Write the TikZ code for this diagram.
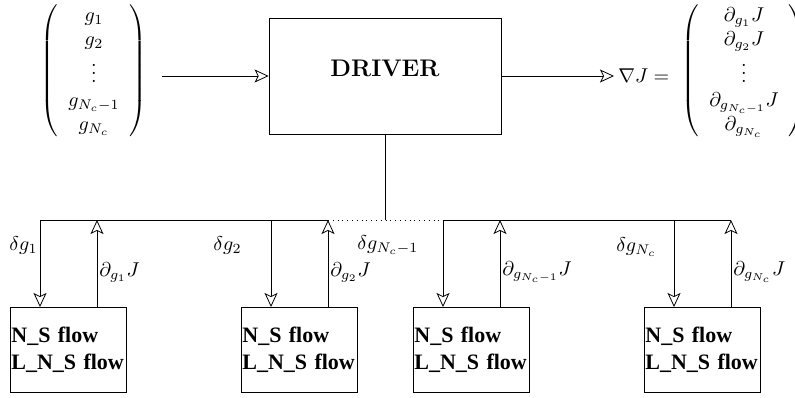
\documentclass[tikz,border=0pt]{standalone}
\usepackage{fontspec}
\usetikzlibrary{arrows.meta}
\newfontfamily\boxfont{Liberation Serif}

\tikzset{
  arr/.style={-{Stealth[open,length=7pt,width=6.5pt,inset=1.6pt]}},
  flowbox/.style={draw, anchor=north west, minimum width=58pt, minimum height=42.5pt,
    text width=57pt, align=left, inner xsep=0.5pt, font=\boxfont\fontsize{11}{13.5}\selectfont\bfseries},
}

\begin{document}
\begin{tikzpicture}[x=0.5pt, y=-0.5pt]
  \useasboundingbox (0,0) rectangle (795,397);
  \def\busY{220}
  % driver and the two vectors
  \node[draw, minimum width=116pt, minimum height=58pt, text depth=8pt,
    font=\large\bfseries] (driver) at (385,76) {DRIVER};
  \node[inner sep=0pt] (gvec) at (94,71)
    {$\left(\begin{array}{c}
      g_1\\ g_2\\ \vdots\\ g_{N_c-1}\\ g_{N_c}\end{array}\right)$};
  \node[anchor=west, inner sep=2pt] (grad) at (614,76) {$\nabla J =$};
  \node[inner sep=0pt] (dvec) at (744,71)
    {$\left(\begin{array}{c}
      \partial_{g_1}J\\ \partial_{g_2}J\\ \vdots\\ \partial_{g_{N_c-1}}J\\ \partial_{g_{N_c}}\end{array}\right)$};
  \draw[arr, shorten <=7.5pt] (gvec.east |- driver.west) -- (driver.west);
  \draw[arr] (driver.east) -- (grad.west);
  % flow boxes with their down/up arrows
  \foreach \i/\x in {1/10, 2/241, 3/413, 4/644} {
    \node[flowbox] (f\i) at (\x,307) {N\_S flow\\ L\_N\_S flow};
    \coordinate (t\i) at (\x+30,\busY);
    \coordinate (u\i) at (\x+87,\busY);
    \draw[arr] (t\i) -- (t\i |- f\i.north);
    \draw[arr] (u\i |- f\i.north) -- (u\i);
  }
  \draw (driver.south) -- (driver.south |- t1);
  \draw (t1) -- (u2);
  \draw[dotted] (u2) -- (t3);
  \draw (t3) -- (u4);
  % labels
  \foreach \i/\x/\y/\a/\lab in {1/38/245/east/{g_1}, 2/242/245/east/{g_2},
      3/357/245/west/{g_{N_c-1}}, 4/657/247/east/{g_{N_c}}}
    \node[anchor=\a, inner sep=0pt] (dl\i) at (\x,\y) {$\delta \lab$};
  \foreach \i/\lab in {1/{g_1}, 2/{g_2}, 3/{g_{N_c-1}}, 4/{g_{N_c}}}
    \node[anchor=west, inner sep=1pt] (pl\i) at (u\i |- 0,272) {$\partial_{\lab}J$};
\end{tikzpicture}
\end{document}
